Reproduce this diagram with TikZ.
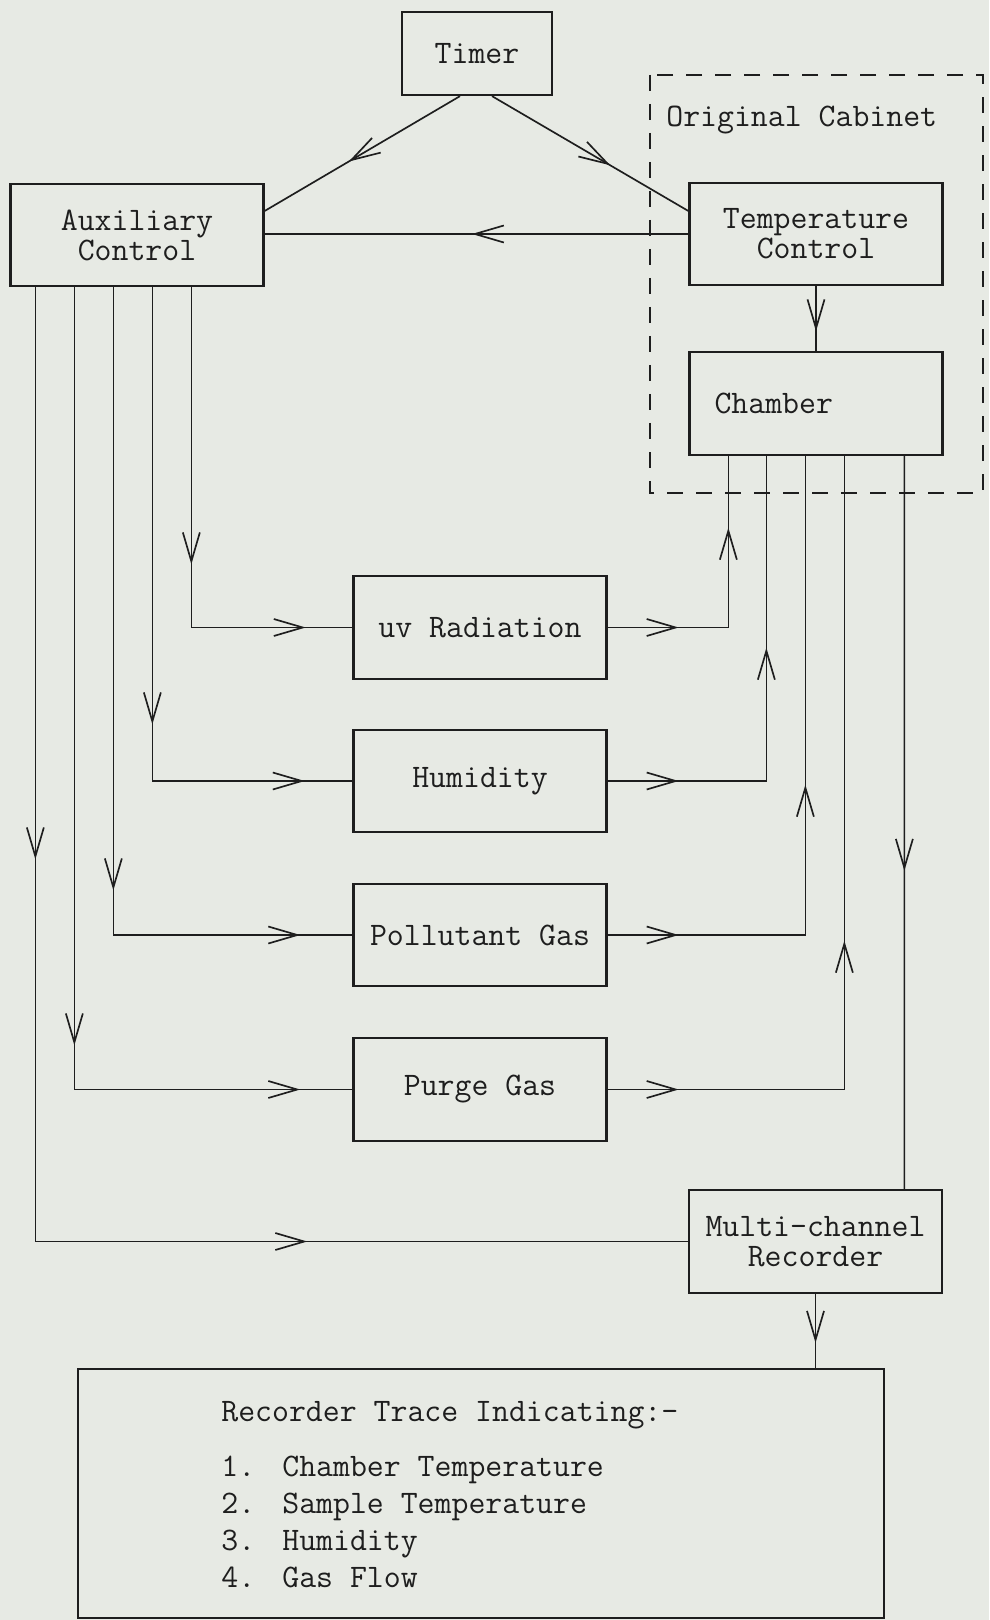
\documentclass[tikz,border=0pt]{standalone}
\usetikzlibrary{arrows.meta}
\usetikzlibrary{decorations.markings}
\definecolor{paper}{HTML}{E7EAE4}
\definecolor{ink}{HTML}{1E1E1E}
\newcommand{\diagfont}{\ttfamily\fontsize{18.7}{17}\selectfont}

\begin{document}
\begin{tikzpicture}[
    box/.style={draw=ink, line width=1.3pt, minimum width=5.06cm, minimum height=2.05cm, align=center, inner sep=0pt, font=\diagfont, text=ink},
    conn/.style={draw=ink, line width=0.95pt},
    tip/.style={postaction={decorate}, decoration={markings,
      mark=at position #1 with {\arrow{Straight Barb[length=5.8mm, width=3.4mm]}}}},
    tips/.style 2 args={postaction={decorate}, decoration={markings,
      mark=at position #1 with {\arrow{Straight Barb[length=5.8mm, width=3.4mm]}},
      mark=at position #2 with {\arrow{Straight Barb[length=5.8mm, width=3.4mm]}}}},
]
  % === Paper ===
  \fill[paper] (0, 0) rectangle (19.78, -32.4);

  % === Original Cabinet (dashed) ===
  \draw[ink, line width=1.3pt, dash pattern=on 0.32cm off 0.26cm]
    (13.0, -1.5) rectangle (19.66, -9.86);
  \node[anchor=base west, inner sep=0pt, font=\diagfont, text=ink] (cablabel) at (13.32, -2.54) {Original Cabinet};

  % === Boxes ===
  \node[box, minimum width=3.0cm, minimum height=1.66cm] (timer) at (9.54, -1.07) {Timer};
  \node[box] (aux) at (2.74, -4.70) {Auxiliary\\Control};
  \node[box] (tempctl) at (16.32, -4.68) {Temperature\\Control};
  \node[box, text width=4.06cm, align=left] (chamber) at (16.32, -8.07) {Chamber};
  \node[box] (uv) at (9.60, -12.55) {uv Radiation};
  \node[box] (humid) at (9.60, -15.62) {Humidity};
  \node[box] (pollut) at (9.60, -18.70) {Pollutant Gas};
  \node[box] (purge) at (9.60, -21.79) {Purge Gas};
  \node[box] (recorder) at (16.31, -24.83) {Multi-channel\\Recorder};
  \node[box, minimum width=16.12cm, minimum height=4.98cm] (trace) at (9.62, -29.87) {};
  \node[anchor=north west, inner sep=0pt, align=left, text=ink,
        font=\ttfamily\fontsize{18.7}{21}\selectfont] (tracelist) at (4.42, -28.02) {
    Recorder Trace Indicating:-\\[0.36cm]
    \makebox[1.22cm][l]{1.}Chamber Temperature\\
    \makebox[1.22cm][l]{2.}Sample Temperature\\
    \makebox[1.22cm][l]{3.}Humidity\\
    \makebox[1.22cm][l]{4.}Gas Flow};

  % === Timer and controls ===
  \draw[conn, tip=2.58cm] ([xshift=-0.34cm]timer.south) -- ([yshift=0.48cm]aux.east);
  \draw[conn, tip=2.74cm] ([xshift=0.30cm]timer.south) -- ([yshift=0.46cm]tempctl.west);
  \draw[conn, tip=4.33cm] (tempctl.west) -- (tempctl.west -| aux.east);
  \draw[conn, tip=0.90cm] (tempctl.south) -- (chamber.north);

  % === Auxiliary control outputs ===
  \draw[conn, tips={5.54cm}{9.09cm}] ([xshift=3.64cm]aux.south west) |- (uv.west);
  \draw[conn, tips={8.74cm}{12.92cm}] ([xshift=2.86cm]aux.south west) |- (humid.west);
  \draw[conn, tips={12.06cm}{16.69cm}] ([xshift=2.08cm]aux.south west) |- (pollut.west);
  \draw[conn, tips={15.16cm}{20.56cm}] ([xshift=1.30cm]aux.south west) |- (purge.west);
  \draw[conn, tips={11.44cm}{24.52cm}] ([xshift=0.52cm]aux.south west) |- (recorder.west);

  % === Into the chamber ===
  \draw[conn, tips={1.42cm}{4.41cm}] (uv.east) -| ([xshift=0.80cm]chamber.south west);
  \draw[conn, tips={1.42cm}{5.84cm}] (humid.east) -| ([xshift=1.56cm]chamber.south west);
  \draw[conn, tips={1.42cm}{6.96cm}] (pollut.east) -| ([xshift=2.34cm]chamber.south west);
  \draw[conn, tips={1.42cm}{7.71cm}] (purge.east) -| ([xshift=3.12cm]chamber.south west);

  % === Recording ===
  \draw[conn, tip=8.30cm] ([xshift=4.32cm]chamber.south west) -- ([xshift=4.33cm]recorder.north west);
  \draw[conn, tip=0.98cm] (recorder.south) -- (recorder.south |- trace.north);
\end{tikzpicture}
\end{document}
